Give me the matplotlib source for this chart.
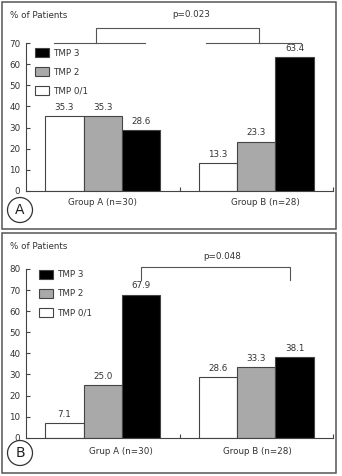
import matplotlib.pyplot as plt
import numpy as np
from matplotlib.patches import Rectangle, Circle

# panel A
groups_a = ['Group A (n=30)', 'Group B (n=28)']
tmp01_a = [35.3, 13.3]
tmp2_a = [35.3, 23.3]
tmp3_a = [28.6, 63.4]
p_a = 'p=0.023'

# panel B
groups_b = ['Grup A (n=30)', 'Group B (n=28)']
tmp01_b = [7.1, 28.6]
tmp2_b = [25.0, 33.3]
tmp3_b = [67.9, 38.1]
p_b = 'p=0.048'

series_names = ['TMP 0/1', 'TMP 2', 'TMP 3']
series_colors = ['white', '#a9a9a9', 'black']

FS = 6.3
TXT = '#333333'
plt.rcParams['font.family'] = 'DejaVu Sans'

fig = plt.figure(figsize=(3.42, 4.76), dpi=100)


def draw_panel(ax, groups, series, ymax, label_pos):
    x = np.arange(len(groups))
    w = 0.25
    handles = []
    for i, (vals, name, col) in enumerate(zip(series, series_names, series_colors)):
        bars = ax.bar(x + (i - 1) * w, vals, w, color=col, edgecolor='#444444',
                      linewidth=0.8, label=name)
        handles.append(bars)
        for xi, v in zip(x + (i - 1) * w, vals):
            ax.annotate(f'{v:.1f}', (xi, v), xytext=(0, 3), textcoords='offset points',
                        ha='center', va='bottom', fontsize=FS, color=TXT)
    ax.set_xlim(-0.5, 1.5)
    ax.set_ylim(0, ymax)
    ax.set_yticks(np.arange(0, ymax + 1, 10))
    ax.set_xticks([0.5, 1.5])
    ax.set_xticklabels([])
    ax.tick_params(axis='both', direction='in', length=3, width=0.8, color='#444444',
                   labelsize=FS, labelcolor=TXT, pad=4)
    for s in ['top', 'right']:
        ax.spines[s].set_visible(False)
    for s in ['left', 'bottom']:
        ax.spines[s].set_color('#444444')
        ax.spines[s].set_linewidth(0.8)
    for gx, g in zip(label_pos, groups):
        ax.text(gx, -0.08, g, transform=ax.get_xaxis_transform(), ha='center',
                va='center', fontsize=FS, color=TXT)
    return handles


def legend(ax, handles, anchor):
    ax.legend(handles[::-1], series_names[::-1], loc='upper left', bbox_to_anchor=anchor,
              frameon=False, fontsize=FS, handlelength=1.6, handleheight=1.2,
              labelspacing=1.1, handletextpad=0.5, borderpad=0, borderaxespad=0,
              labelcolor=TXT)


# ---- panel A
ax1 = fig.add_axes([26 / 342, 1 - 190.7 / 476, 307 / 342, 147.4 / 476])
h1 = draw_panel(ax1, groups_a, [tmp01_a, tmp2_a, tmp3_a], 70, [0.0, 1.06])
legend(ax1, h1, (9 / 307, 1 - 5 / 147.4))
lc = dict(color='#555555', lw=0.8, clip_on=False)
ax1.plot([-0.044, -0.044, 1.018, 1.018], [70, 77.5, 77.5, 70], **lc)
ax1.plot([-0.32, 0.275], [70, 70], **lc)
ax1.plot([0.67, 1.29], [70, 70], **lc)
ax1.text(0.575, 83.7, p_a, ha='center', va='center', fontsize=FS, color=TXT)
fig.text(10 / 342, 1 - 16 / 476, '% of Patients', ha='left', va='center', fontsize=FS, color=TXT)

# ---- panel B
ax2 = fig.add_axes([26 / 342, 1 - 437.7 / 476, 307 / 342, 168.7 / 476])
h2 = draw_panel(ax2, groups_b, [tmp01_b, tmp2_b, tmp3_b], 80, [0.12, 1.01])
legend(ax2, h2, (13 / 307, 1 - 1 / 168.7))
ax2.plot([0.25, 0.25, 1.22, 1.22], [74.7, 80.9, 80.9, 74.7], **lc)
ax2.text(0.775, 86.1, p_b, ha='center', va='center', fontsize=FS, color=TXT)
fig.text(10 / 342, 1 - 246 / 476, '% of Patients', ha='left', va='center', fontsize=FS, color=TXT)

# panel frames and letters
for y0, y1, letter, cy in [(1.5, 229, 'A', 210), (233, 473, 'B', 453)]:
    fig.patches.append(Rectangle((2 / 342, 1 - y1 / 476), 334 / 342, (y1 - y0) / 476,
                                 transform=fig.transFigure, fill=False,
                                 edgecolor='#555555', linewidth=1.1))
    fig.patches.append(Circle((0.20, (476 - cy) / 100), 0.125, transform=fig.dpi_scale_trans,
                              fill=False, edgecolor='#333333', linewidth=0.9))
    fig.text(20 / 342, 1 - cy / 476, letter, ha='center', va='center', fontsize=10, color='#222222')

fig.savefig('out.png', dpi=100)
